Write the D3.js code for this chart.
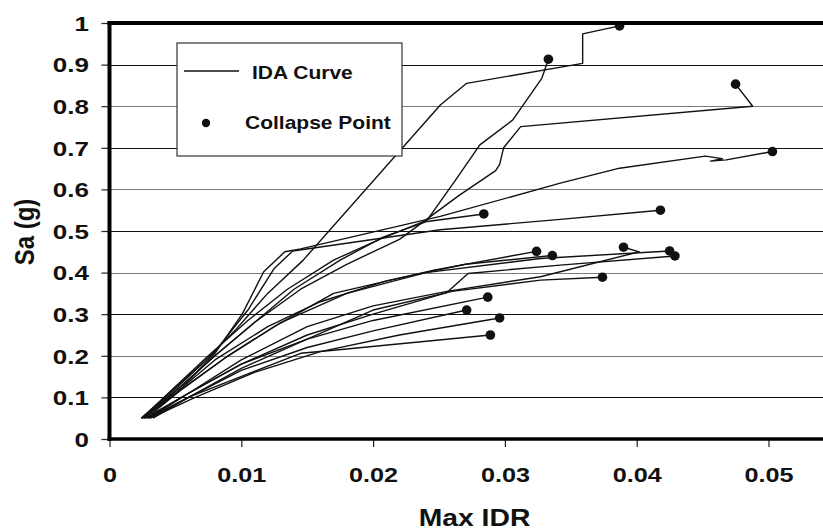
<!DOCTYPE html>
<html>
<head>
<meta charset="utf-8">
<script src="https://cdn.jsdelivr.net/npm/d3@7"></script>
<style>
  html, body { margin: 0; padding: 0; background: #ffffff; }
  svg { display: block; }
  text { font-family: "Liberation Sans", Arial, sans-serif; font-weight: bold; fill: #111; }
</style>
</head>
<body>
<svg id="chart" width="823" height="530"></svg>
<script>
// Axis ticks
const xTickValues = [0, 0.01, 0.02, 0.03, 0.04, 0.05];
const xTickLabels = ["0", "0.01", "0.02", "0.03", "0.04", "0.05"];
const yTickValues = [0, 0.1, 0.2, 0.3, 0.4, 0.5, 0.6, 0.7, 0.8, 0.9, 1];
const yTickLabels = ["0", "0.1", "0.2", "0.3", "0.4", "0.5", "0.6", "0.7", "0.8", "0.9", "1"];

// IDA curves: [max IDR, Sa (g)] per record; the last point of each is its collapse point
const gm01 = [[0.0024,0.05],[0.0045,0.11],[0.007,0.18],[0.0095,0.26],[0.012,0.35],[0.0147,0.43],[0.0251,0.803],[0.0271,0.855],[0.0359,0.903],[0.0359,0.974],[0.0387,0.993]];
const gm02 = [[0.0025,0.05],[0.0048,0.12],[0.0075,0.2],[0.0105,0.285],[0.0135,0.36],[0.017,0.43],[0.0205,0.48],[0.0241,0.526],[0.0262,0.62],[0.0281,0.707],[0.0306,0.767],[0.0328,0.867],[0.0333,0.913]];
const gm03 = [[0.0026,0.05],[0.005,0.115],[0.008,0.2],[0.011,0.28],[0.0145,0.36],[0.018,0.42],[0.022,0.48],[0.0265,0.585],[0.0293,0.645],[0.0296,0.66],[0.0299,0.70],[0.0312,0.751],[0.0488,0.80],[0.0475,0.853]];
const gm04 = [[0.0024,0.05],[0.006,0.14],[0.008,0.206],[0.0101,0.302],[0.0117,0.402],[0.0133,0.450],[0.0145,0.457],[0.0251,0.535],[0.0342,0.615],[0.0387,0.651],[0.0452,0.680],[0.0465,0.674],[0.0456,0.668],[0.0468,0.671],[0.0503,0.691]];
const gm05 = [[0.0026,0.05],[0.005,0.115],[0.008,0.2],[0.011,0.28],[0.014,0.36],[0.0175,0.43],[0.0208,0.486],[0.0241,0.523],[0.0284,0.541]];
const gm06 = [[0.0025,0.05],[0.005,0.12],[0.008,0.21],[0.0105,0.31],[0.0125,0.41],[0.0139,0.452],[0.0251,0.503],[0.0342,0.528],[0.0418,0.55]];
const gm07 = [[0.0028,0.05],[0.0055,0.12],[0.009,0.2],[0.0125,0.27],[0.017,0.35],[0.0246,0.406],[0.0324,0.451]];
const gm08 = [[0.0025,0.05],[0.005,0.11],[0.008,0.19],[0.012,0.27],[0.016,0.33],[0.021,0.38],[0.027,0.42],[0.0336,0.441]];
const gm09 = [[0.003,0.05],[0.006,0.11],[0.01,0.19],[0.015,0.27],[0.02,0.32],[0.0256,0.355],[0.0327,0.39],[0.0402,0.450],[0.039,0.461]];
const gm10 = [[0.0026,0.05],[0.0055,0.12],[0.009,0.2],[0.013,0.28],[0.018,0.35],[0.024,0.40],[0.0327,0.434],[0.0425,0.452]];
const gm11 = [[0.0027,0.05],[0.006,0.11],[0.01,0.18],[0.015,0.25],[0.02,0.3],[0.0256,0.352],[0.0272,0.398],[0.0342,0.418],[0.0429,0.44]];
const gm12 = [[0.003,0.05],[0.006,0.1],[0.01,0.17],[0.015,0.24],[0.02,0.31],[0.026,0.355],[0.0327,0.382],[0.0374,0.389]];
const gm13 = [[0.0028,0.05],[0.006,0.11],[0.01,0.18],[0.015,0.24],[0.02,0.285],[0.0287,0.341]];
const gm14 = [[0.0029,0.05],[0.006,0.1],[0.01,0.165],[0.015,0.22],[0.02,0.26],[0.0271,0.31]];
const gm15 = [[0.0031,0.05],[0.0065,0.1],[0.011,0.16],[0.016,0.21],[0.022,0.25],[0.0296,0.291]];
const gm16 = [[0.0033,0.05],[0.0061,0.102],[0.0145,0.206],[0.0172,0.214],[0.0289,0.25]];

const curves = [gm01, gm02, gm03, gm04, gm05, gm06, gm07, gm08, gm09, gm10, gm11, gm12, gm13, gm14, gm15, gm16];

const svg = d3.select("#chart");
const W = 823;
const FONT = "Liberation Sans, Arial, sans-serif";

const x = d3.scaleLinear().domain([0, 0.055]).range([109.5, 834.4]);
const y = d3.scaleLinear().domain([0, 1]).range([439, 23]);

// Horizontal gridlines
svg.append("g").selectAll("line")
  .data(yTickValues.filter(v => v > 0 && v < 1))
  .join("line")
  .attr("x1", x(0)).attr("x2", W)
  .attr("y1", d => Math.round(y(d)) + 0.5).attr("y2", d => Math.round(y(d)) + 0.5)
  .attr("stroke", (d, i) => (i % 2 === 0) ? "#111" : "#7a7a7a")
  .attr("stroke-width", 1.2);

// Y axis (ticks + labels, labels widened horizontally)
const yAxis = d3.axisLeft(y)
  .tickValues(yTickValues)
  .tickFormat((d, i) => yTickLabels[i])
  .tickSize(8);
const gy = svg.append("g").attr("transform", `translate(${x(0)},0)`).call(yAxis);
gy.select(".domain").remove();
gy.selectAll(".tick line").attr("stroke", "#222").attr("stroke-width", 1.2);
gy.selectAll(".tick text")
  .attr("x", 0)
  .attr("dy", "0.36em")
  .attr("transform", "translate(-20.5,0) scale(1.3,1)")
  .attr("font-family", FONT)
  .attr("font-weight", "bold")
  .attr("font-size", 20)
  .attr("fill", "#111");

// X axis (ticks + labels)
const xAxis = d3.axisBottom(x)
  .tickValues(xTickValues)
  .tickFormat((d, i) => xTickLabels[i])
  .tickSize(8)
  .tickPadding(20);
const gx = svg.append("g").attr("transform", `translate(0,${y(0)})`).call(xAxis);
gx.select(".domain").remove();
gx.selectAll(".tick line").attr("stroke", "#222").attr("stroke-width", 1.2);
gx.selectAll(".tick text")
  .attr("transform", "scale(1.2,1)")
  .attr("font-family", FONT)
  .attr("font-weight", "bold")
  .attr("font-size", 21)
  .attr("fill", "#111");

// IDA curves
const line = d3.line().x(d => x(d[0])).y(d => y(d[1]));
svg.append("g").selectAll("path")
  .data(curves)
  .join("path")
  .attr("d", line)
  .attr("fill", "none")
  .attr("stroke", "#111")
  .attr("stroke-width", 1.4)
  .attr("stroke-linejoin", "round");

// Collapse points
svg.append("g").selectAll("circle")
  .data(curves.map(c => c[c.length - 1]))
  .join("circle")
  .attr("cx", d => x(d[0]))
  .attr("cy", d => y(d[1]))
  .attr("r", 4.8)
  .attr("fill", "#111");

// Frame: thick top border and axis lines
svg.append("line").attr("x1", x(0) - 2).attr("x2", W).attr("y1", y(1)).attr("y2", y(1))
  .attr("stroke", "#000").attr("stroke-width", 4);
svg.append("line").attr("x1", x(0)).attr("x2", x(0)).attr("y1", y(1) - 2).attr("y2", y(0) + 2)
  .attr("stroke", "#000").attr("stroke-width", 4);
svg.append("line").attr("x1", x(0) - 2).attr("x2", W).attr("y1", y(0)).attr("y2", y(0))
  .attr("stroke", "#000").attr("stroke-width", 3.6);

// Legend
const lg = svg.append("g");
lg.append("rect").attr("x", 177).attr("y", 43).attr("width", 225).attr("height", 113)
  .attr("fill", "#fff").attr("stroke", "#333").attr("stroke-width", 1.2);
lg.append("line").attr("x1", 184).attr("x2", 239).attr("y1", 71).attr("y2", 71)
  .attr("stroke", "#111").attr("stroke-width", 1.6);
lg.append("text").attr("transform", "translate(252,79) scale(1.13,1)")
  .attr("font-size", 18.6).text("IDA Curve");
lg.append("circle").attr("cx", 206).attr("cy", 123).attr("r", 4.2).attr("fill", "#111");
lg.append("text").attr("transform", "translate(245,128.5) scale(1.13,1)")
  .attr("font-size", 18.6).text("Collapse Point");

// Axis titles
svg.append("text")
  .attr("transform", "translate(474.5,526) scale(1.18,1)")
  .attr("text-anchor", "middle")
  .attr("font-size", 24)
  .text("Max IDR");
svg.append("text")
  .attr("transform", "translate(34,232) rotate(-90) scale(1,1.15)")
  .attr("text-anchor", "middle")
  .attr("font-size", 24)
  .text("Sa (g)");
</script>
</body>
</html>
